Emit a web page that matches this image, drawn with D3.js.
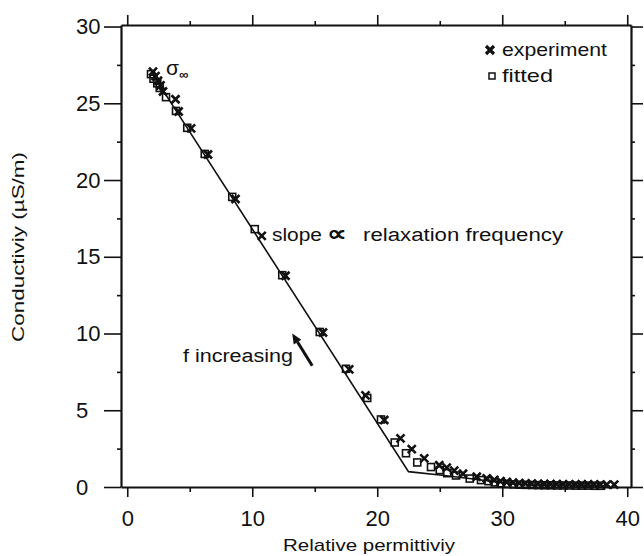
<!DOCTYPE html>
<html>
<head>
<meta charset="utf-8">
<script src="https://cdn.jsdelivr.net/npm/d3@7"></script>
<style>
  body { margin: 0; background: #fff; }
  svg { display: block; }
  text { font-family: "Liberation Sans", Arial, sans-serif; fill: #111; }
</style>
</head>
<body>
<div id="chart"></div>
<script>
// experiment (crosses)
const expX = [1.9, 2.1, 2.3, 2.5, 2.7, 3.7, 3.95, 4.95, 6.3, 8.5, 10.6, 12.5, 15.5, 17.6, 18.9, 20.4, 21.7, 22.6, 23.6, 24.8, 25.4, 26.0, 26.7, 27.8, 28.6,
  29.2, 29.7, 30.2, 30.7, 31.2, 31.7, 32.2, 32.7, 33.2, 33.7, 34.2, 34.7, 35.2, 35.7, 36.2, 36.7, 37.2, 37.7, 38.2, 38.8];
const expY = [27.0, 26.7, 26.4, 26.1, 25.7, 25.2, 24.4, 23.3, 21.6, 18.7, 16.3, 13.7, 10.0, 7.6, 5.9, 4.3, 3.1, 2.4, 1.8, 1.35, 1.2, 1.0, 0.8, 0.6, 0.5,
  0.4, 0.32, 0.26, 0.22, 0.19, 0.17, 0.15, 0.14, 0.13, 0.12, 0.12, 0.11, 0.11, 0.1, 0.1, 0.1, 0.1, 0.09, 0.09, 0.09];
// fitted (open squares)
const fitX = [1.9, 2.1, 2.4, 2.6, 3.1, 3.9, 4.8, 6.2, 8.4, 10.2, 12.4, 15.4, 17.5, 19.2, 20.3, 21.4, 22.3, 23.2, 24.3, 25.0, 25.6, 26.3, 27.4, 28.3,
  28.9, 29.4, 29.9, 30.4, 30.9, 31.4, 31.9, 32.4, 32.9, 33.4, 33.9, 34.4, 34.9, 35.4, 35.9, 36.4, 36.9, 37.4, 37.9];
const fitY = [26.9, 26.6, 26.3, 26.0, 25.4, 24.5, 23.4, 21.7, 18.9, 16.8, 13.8, 10.1, 7.7, 5.8, 4.4, 2.9, 2.2, 1.6, 1.3, 1.1, 0.9, 0.75, 0.55, 0.45,
  0.38, 0.3, 0.24, 0.2, 0.17, 0.15, 0.14, 0.13, 0.12, 0.11, 0.11, 0.1, 0.1, 0.1, 0.09, 0.09, 0.09, 0.08, 0.08];
// model line
const lineX = [2.1, 22.5, 25.0, 27.7, 30.0, 32.0, 38.6];
const lineY = [26.8, 1.0, 0.78, 0.52, 0.28, 0.15, 0.08];

const xMajor = [0, 10, 20, 30, 40];
const xMinor = [5, 15, 25, 35];
const yMajor = [0, 5, 10, 15, 20, 25, 30];
const yMinor = [2.5, 7.5, 12.5, 17.5, 22.5, 27.5];

const W = 644, H = 556;
const mLeft = 121, mRight = 631, mTop = 25, mBottom = 487;

const svg = d3.select("#chart").append("svg").attr("width", W).attr("height", H);

const x = d3.scaleLinear().domain([-0.5, 40.3]).range([mLeft, mRight]);
const y = d3.scaleLinear().domain([0, 30.1]).range([mBottom, mTop]);

function style(g, w) {
  g.select(".domain").attr("stroke", "#111").attr("stroke-width", w);
  g.selectAll(".tick line").attr("stroke", "#111").attr("stroke-width", 1.6);
}

// left
let g = svg.append("g").attr("transform", `translate(${mLeft},0)`)
  .call(d3.axisLeft(y).tickValues(yMajor).tickSize(17).tickSizeOuter(0));
style(g, 2.2);
g.selectAll("text").attr("font-size", 22).attr("text-anchor", "start").attr("x", -45);
g = svg.append("g").attr("transform", `translate(${mLeft},0)`)
  .call(d3.axisLeft(y).tickValues(yMinor).tickSize(4).tickSizeOuter(0).tickFormat(""));
style(g, 0);
// right
g = svg.append("g").attr("transform", `translate(${mRight},0)`)
  .call(d3.axisRight(y).tickValues(yMajor).tickSize(12).tickSizeOuter(0).tickFormat(""));
style(g, 2.2);
g = svg.append("g").attr("transform", `translate(${mRight},0)`)
  .call(d3.axisRight(y).tickValues(yMinor).tickSize(4).tickSizeOuter(0).tickFormat(""));
style(g, 0);
// bottom
g = svg.append("g").attr("transform", `translate(0,${mBottom})`)
  .call(d3.axisBottom(x).tickValues(xMajor).tickSize(10).tickSizeOuter(0));
style(g, 2);
g.selectAll("text").attr("font-size", 22).attr("y", 23).attr("dy", "0.71em");
g = svg.append("g").attr("transform", `translate(0,${mBottom})`)
  .call(d3.axisBottom(x).tickValues(xMinor).tickSize(5).tickSizeOuter(0).tickFormat(""));
style(g, 0);
// top
g = svg.append("g").attr("transform", `translate(0,${mTop})`)
  .call(d3.axisTop(x).tickValues(xMajor).tickSize(10).tickSizeOuter(0).tickFormat(""));
style(g, 2);
g = svg.append("g").attr("transform", `translate(0,${mTop})`)
  .call(d3.axisTop(x).tickValues(xMinor).tickSize(4).tickSizeOuter(0).tickFormat(""));
style(g, 0);

// axis titles
svg.append("text").attr("x", 369).attr("y", 551).attr("text-anchor", "middle")
  .attr("font-size", 17).attr("textLength", 172).attr("lengthAdjust", "spacingAndGlyphs")
  .text("Relative permittiviy");
svg.append("text").attr("transform", "translate(24,247) rotate(-90)").attr("text-anchor", "middle")
  .attr("font-size", 17).attr("textLength", 190).attr("lengthAdjust", "spacingAndGlyphs")
  .text("Conductiviy (µS/m)");

// model line
const line = d3.line().x(d => x(d[0])).y(d => y(d[1]));
svg.append("path").datum(d3.zip(lineX, lineY))
  .attr("d", line).attr("fill", "none").attr("stroke", "#111").attr("stroke-width", 1.6);

// fitted squares
const fit = d3.zip(fitX, fitY);
svg.append("g").selectAll("rect").data(fit).join("rect")
  .attr("x", d => x(d[0]) - 3.5).attr("y", d => y(d[1]) - 3.5)
  .attr("width", 7).attr("height", 7)
  .attr("fill", "none").attr("stroke", "#111").attr("stroke-width", 1.6);

// experiment crosses
const cross = (cx, cy, r) => `M${cx - r},${cy - r}L${cx + r},${cy + r}M${cx - r},${cy + r}L${cx + r},${cy - r}`;
const exp = d3.zip(expX, expY);
svg.append("g").selectAll("path").data(exp).join("path")
  .attr("d", d => cross(x(d[0]) + 2, y(d[1]) - 1, 4))
  .attr("stroke", "#111").attr("stroke-width", 2.6).attr("fill", "none");

// legend
svg.append("path").attr("d", cross(490, 50, 4)).attr("stroke", "#111").attr("stroke-width", 3.2);
svg.append("text").attr("x", 502).attr("y", 56).attr("font-size", 19)
  .attr("textLength", 105).attr("lengthAdjust", "spacingAndGlyphs").text("experiment");
svg.append("rect").attr("x", 489).attr("y", 73).attr("width", 6).attr("height", 6)
  .attr("fill", "none").attr("stroke", "#111").attr("stroke-width", 1.5);
svg.append("text").attr("x", 502).attr("y", 82).attr("font-size", 19)
  .attr("textLength", 51).attr("lengthAdjust", "spacingAndGlyphs").text("fitted");

// annotations
svg.append("text").attr("x", 272).attr("y", 241).attr("font-size", 18)
  .attr("textLength", 50).attr("lengthAdjust", "spacingAndGlyphs").text("slope");
svg.append("text").attr("x", 327).attr("y", 241).attr("font-size", 22).attr("font-weight", "bold")
  .attr("textLength", 20).attr("lengthAdjust", "spacingAndGlyphs").text("∝");
svg.append("text").attr("x", 363).attr("y", 241).attr("font-size", 18)
  .attr("textLength", 200).attr("lengthAdjust", "spacingAndGlyphs").text("relaxation frequency");

svg.append("text").attr("x", 183).attr("y", 362).attr("font-size", 18)
  .attr("textLength", 110).attr("lengthAdjust", "spacingAndGlyphs").text("f increasing");

const s = svg.append("text").attr("x", x(3.1)).attr("y", 75).attr("font-size", 21);
s.append("tspan").text("σ");
s.append("tspan").attr("font-size", 13).attr("font-weight", "bold").attr("dy", 4).text("∞");

// arrow
const a0 = [x(14.8), y(7.9)], a1 = [x(13.2), y(10.0)];
const ang = Math.atan2(a1[1] - a0[1], a1[0] - a0[0]);
const hl = 10, hw = 4.5;
const bx = a1[0] - hl * Math.cos(ang), by = a1[1] - hl * Math.sin(ang);
svg.append("line").attr("x1", a0[0]).attr("y1", a0[1]).attr("x2", bx).attr("y2", by)
  .attr("stroke", "#111").attr("stroke-width", 3);
svg.append("path")
  .attr("d", `M${a1[0]},${a1[1]}L${bx + hw * Math.sin(ang)},${by - hw * Math.cos(ang)}L${bx - hw * Math.sin(ang)},${by + hw * Math.cos(ang)}Z`)
  .attr("fill", "#111");
</script>
</body>
</html>
